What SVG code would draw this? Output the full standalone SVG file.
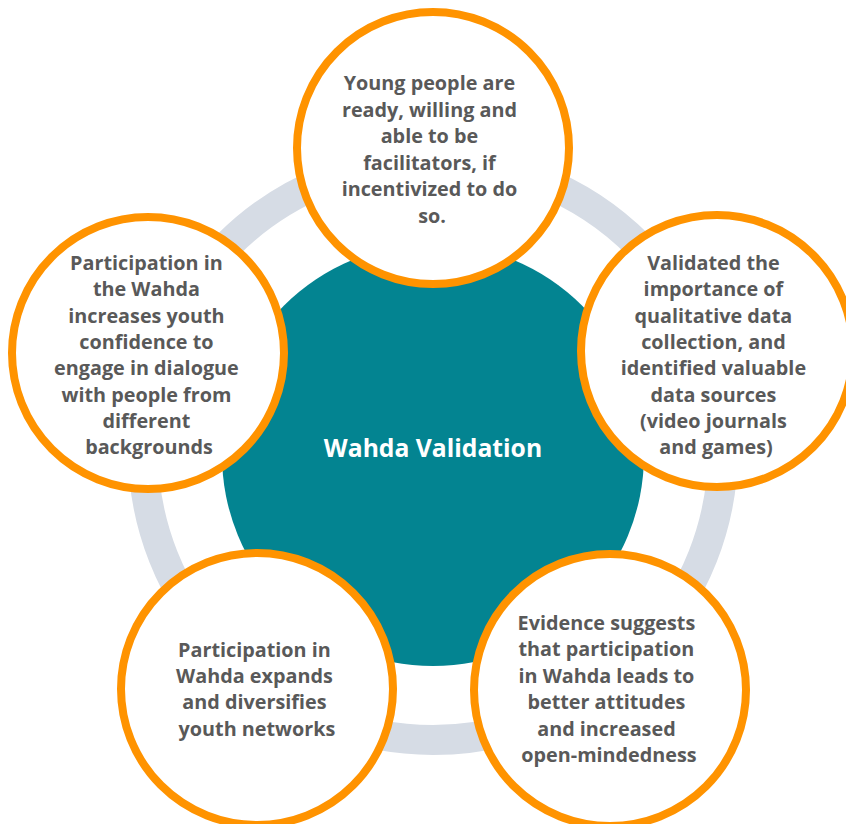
<svg xmlns="http://www.w3.org/2000/svg" width="846" height="824" viewBox="0 0 846 824">
  <style>
    .ring { fill: none; stroke: #D6DCE5; stroke-width: 30; }
    .hub { fill: #038491; }
    .bubble { fill: #FFFFFF; stroke: #FF9300; stroke-width: 8; }
    .label { font-family: "Open Sans", Lato, sans-serif; font-weight: 700; font-size: 19.8px; fill: #595959; text-anchor: middle; }
    .title { font-family: "Open Sans", Lato, sans-serif; font-weight: 700; font-size: 24.7px; fill: #FFFFFF; text-anchor: middle; }
  </style>
  <rect width="846" height="824" fill="#FFFFFF"/>

  <!-- connecting ring behind the bubbles -->
  <g id="connectors">
    <circle class="ring" cx="433" cy="450" r="290"/>
  </g>

  <!-- central hub -->
  <g id="hub">
    <circle class="hub" cx="433" cy="455" r="211"/>
    <text class="title" x="433" y="457">Wahda Validation</text>
  </g>

  <g id="node-top">
    <circle class="bubble" cx="433" cy="148" r="136"/>
    <text class="label">
      <tspan x="432" y="90">Young people are</tspan>
      <tspan x="432" dy="26.5">ready, willing and</tspan>
      <tspan x="432" dy="26.5">able to be</tspan>
      <tspan x="432" dy="26.5">facilitators, if</tspan>
      <tspan x="432" dy="26.5">incentivized to do</tspan>
      <tspan x="432" dy="26.5">so.</tspan>
    </text>
  </g>

  <g id="node-right">
    <circle class="bubble" cx="717" cy="351" r="136"/>
    <text class="label">
      <tspan x="716" y="270">Validated the</tspan>
      <tspan x="716" dy="26.3">importance of</tspan>
      <tspan x="716" dy="26.3">qualitative data</tspan>
      <tspan x="716" dy="26.3">collection, and</tspan>
      <tspan x="716" dy="26.3">identified valuable</tspan>
      <tspan x="716" dy="26.3">data sources</tspan>
      <tspan x="716" dy="26.3">(video journals</tspan>
      <tspan x="716" dy="26.3">and games)</tspan>
    </text>
  </g>

  <g id="node-bottom-right">
    <circle class="bubble" cx="610" cy="690" r="136"/>
    <text class="label">
      <tspan x="609" y="630">Evidence suggests</tspan>
      <tspan x="609" dy="26.4">that participation</tspan>
      <tspan x="609" dy="26.4">in Wahda leads to</tspan>
      <tspan x="609" dy="26.4">better attitudes</tspan>
      <tspan x="609" dy="26.4">and increased</tspan>
      <tspan x="609" dy="26.4">open-mindedness</tspan>
    </text>
  </g>

  <g id="node-bottom-left">
    <circle class="bubble" cx="257" cy="689" r="136"/>
    <text class="label">
      <tspan x="257" y="657">Participation in</tspan>
      <tspan x="257" dy="26.2">Wahda expands</tspan>
      <tspan x="257" dy="26.2">and diversifies</tspan>
      <tspan x="257" dy="26.2">youth networks</tspan>
    </text>
  </g>

  <g id="node-left">
    <circle class="bubble" cx="148" cy="353" r="136"/>
    <text class="label">
      <tspan x="149" y="270">Participation in</tspan>
      <tspan x="149" dy="26.3">the Wahda</tspan>
      <tspan x="149" dy="26.3">increases youth</tspan>
      <tspan x="149" dy="26.3">confidence to</tspan>
      <tspan x="149" dy="26.3">engage in dialogue</tspan>
      <tspan x="149" dy="26.3">with people from</tspan>
      <tspan x="149" dy="26.3">different</tspan>
      <tspan x="149" dy="26.3">backgrounds</tspan>
    </text>
  </g>
</svg>
